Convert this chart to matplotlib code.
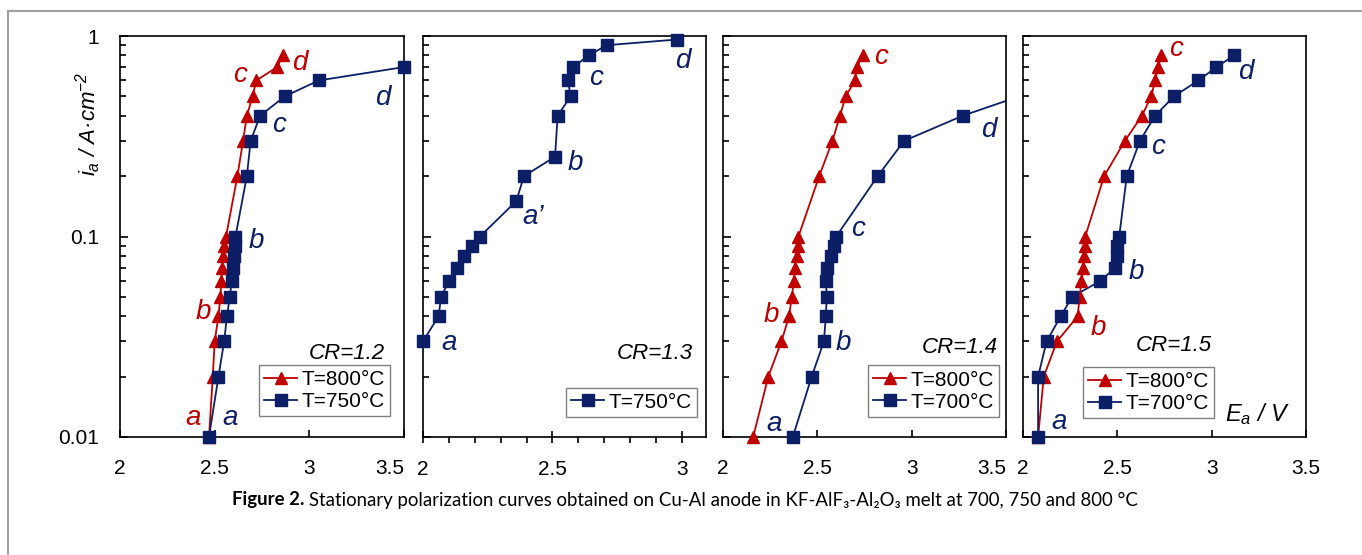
import numpy as np
import matplotlib.pyplot as plt
from matplotlib.lines import Line2D
from matplotlib.ticker import LogLocator, FixedLocator, FuncFormatter, NullFormatter

plt.rcParams['font.family'] = ['Liberation Sans', 'DejaVu Sans']
plt.rcParams['mathtext.fontset'] = 'custom'
plt.rcParams['mathtext.it'] = 'Liberation Sans:italic'
plt.rcParams['mathtext.rm'] = 'Liberation Sans:italic'

RED = '#c00000'
BLUE = '#0c1f66'

# anodic current density, A/cm2
i_17 = [0.01, 0.02, 0.03, 0.04, 0.05, 0.06, 0.07, 0.08, 0.09, 0.1,
        0.2, 0.3, 0.4, 0.5, 0.6, 0.7, 0.8]

# CR = 1.2
E_12_800 = [2.47, 2.49, 2.50, 2.52, 2.53, 2.535, 2.54, 2.545, 2.55, 2.56,
            2.62, 2.65, 2.67, 2.70, 2.72, 2.83, 2.86]
i_12_750 = [0.01, 0.02, 0.03, 0.04, 0.05, 0.06, 0.07, 0.08, 0.09, 0.1,
            0.2, 0.3, 0.4, 0.5, 0.6, 0.7]
E_12_750 = [2.47, 2.52, 2.55, 2.565, 2.58, 2.59, 2.595, 2.60, 2.61, 2.61,
            2.67, 2.69, 2.74, 2.87, 3.05, 3.5]

# CR = 1.3
i_13_750 = [0.03, 0.04, 0.05, 0.06, 0.07, 0.08, 0.09, 0.1, 0.15, 0.2,
            0.25, 0.4, 0.5, 0.6, 0.7, 0.8, 0.9, 0.96]
E_13_750 = [2.00, 2.06, 2.07, 2.10, 2.13, 2.16, 2.19, 2.22, 2.36, 2.39,
            2.51, 2.52, 2.57, 2.56, 2.58, 2.64, 2.71, 2.98]

# CR = 1.4
E_14_800 = [2.16, 2.24, 2.31, 2.35, 2.365, 2.375, 2.38, 2.39, 2.40, 2.40,
            2.51, 2.58, 2.62, 2.65, 2.70, 2.71, 2.74]
i_14_700 = [0.01, 0.02, 0.03, 0.04, 0.05, 0.06, 0.07, 0.08, 0.09, 0.1,
            0.2, 0.3, 0.4, 0.5]
E_14_700 = [2.37, 2.47, 2.535, 2.545, 2.55, 2.545, 2.55, 2.57, 2.59, 2.60,
            2.82, 2.96, 3.27, 3.57]

# CR = 1.5
E_15_800 = [2.08, 2.11, 2.18, 2.29, 2.30, 2.31, 2.32, 2.325, 2.33, 2.33,
            2.43, 2.54, 2.63, 2.68, 2.70, 2.716, 2.734]
E_15_700 = [2.08, 2.08, 2.125, 2.20, 2.26, 2.41, 2.49, 2.50, 2.50, 2.51,
            2.55, 2.62, 2.70, 2.80, 2.93, 3.025, 3.12]

W, H = 1362, 555
fig = plt.figure(figsize=(W / 100, H / 100), dpi=100)
fig.patch.set_facecolor('white')


def add_panel(x0, x1, y0=36, y1=437):
    return fig.add_axes([x0 / W, 1 - y1 / H, (x1 - x0) / W, (y1 - y0) / H])


axes = [add_panel(120, 404), add_panel(423, 706),
        add_panel(723, 1006), add_panel(1023, 1306)]
xlims = [(2, 3.5), (2, 3.093), (2, 3.5), (2, 3.5)]

for k, ax in enumerate(axes):
    ax.set_yscale('log')
    ax.set_ylim(0.01, 1)
    ax.set_xlim(*xlims[k])
    for sp in ax.spines.values():
        sp.set_linewidth(1.2)
    ax.yaxis.set_major_locator(FixedLocator([0.01, 0.1, 1]))
    ax.yaxis.set_minor_locator(LogLocator(base=10, subs=range(2, 10)))
    ax.yaxis.set_minor_formatter(NullFormatter())
    ax.yaxis.set_major_formatter(FuncFormatter(lambda v, p: '%g' % v))
    ax.tick_params(axis='y', which='major', direction='in', length=6, width=1.2,
                   labelsize=15, pad=15, left=True, right=False, labelleft=(k == 0))
    ax.tick_params(axis='y', which='minor', direction='in', length=4.5, width=1.2,
                   left=True, right=False)
    ax.xaxis.set_major_formatter(FuncFormatter(lambda v, p: '%g' % v))
    if k == 1:
        ax.set_xticks([2, 2.5, 3])
        ax.set_xticks(np.arange(2.1, 3.05, 0.1), minor=True)
        ax.tick_params(axis='x', which='major', direction='inout', length=9, width=1.2,
                       labelsize=15, pad=12)
        ax.tick_params(axis='x', which='minor', direction='out', length=4.5, width=1.2)
    else:
        ax.set_xticks([2, 2.5, 3, 3.5])
        ax.xaxis.set_minor_locator(FixedLocator([]))
        ax.tick_params(axis='x', which='major', direction='in', length=5, width=1.2,
                       labelsize=15, pad=16)
    ax.tick_params(axis='x', top=False)

# the 3.5 label is tucked against the right spine where the next panel follows
for ax in (axes[0], axes[2]):
    ax.get_xticklabels()[-1].set_horizontalalignment('right')


def series(ax, E, i, color, marker, label):
    E = np.asarray(E)
    i = np.asarray(i)
    ax.plot(E, i, color=color, linewidth=1.3, zorder=2)
    inside = E <= ax.get_xlim()[1]
    ax.plot(E[inside], i[inside], linestyle='none', marker=marker, color=color,
            markersize=9, clip_on=False, zorder=3)
    return Line2D([], [], color=color, marker=marker, linewidth=1.3,
                  markersize=9, label=label)


def legend(ax, handles, fx, fy):
    leg = ax.legend(handles=handles, loc='lower right', bbox_to_anchor=(fx, fy),
                    borderaxespad=0, fancybox=False, edgecolor='#808080',
                    framealpha=1, fontsize=15, handlelength=1.6, handletextpad=0.2,
                    borderpad=0.25, labelspacing=0.15)
    leg.get_frame().set_linewidth(1.0)


def tags(ax, items):
    for s, E, i, c in items:
        ax.text(E, i, s, color=c, fontsize=20, style='italic',
                ha='center', va='center')


def cr(ax, s, fx, fy):
    ax.text(fx, fy, s, transform=ax.transAxes, fontsize=16, style='italic',
            ha='right', va='center')


# CR = 1.2
ax = axes[0]
h1 = series(ax, E_12_800, i_17, RED, '^', 'T=800°C')
h2 = series(ax, E_12_750, i_12_750, BLUE, 's', 'T=750°C')
legend(ax, [h1, h2], 0.951, 0.052)
cr(ax, 'CR=1.2', 0.933, 0.209)
tags(ax, [('a', 2.384, 0.0124, RED), ('a', 2.58, 0.0124, BLUE),
          ('b', 2.44, 0.042, RED), ('b', 2.72, 0.095, BLUE),
          ('c', 2.635, 0.64, RED), ('d', 2.95, 0.73, RED),
          ('c', 2.84, 0.36, BLUE), ('d', 3.39, 0.49, BLUE)])

# CR = 1.3
ax = axes[1]
h2 = series(ax, E_13_750, i_13_750, BLUE, 's', 'T=750°C')
legend(ax, [h2], 0.968, 0.05)
cr(ax, 'CR=1.3', 0.954, 0.209)
tags(ax, [('a', 2.10, 0.0295, BLUE), ("a’", 2.425, 0.125, BLUE),
          ('b', 2.59, 0.232, BLUE), ('c', 2.668, 0.62, BLUE),
          ('d', 3.004, 0.75, BLUE)])

# CR = 1.4
ax = axes[2]
h1 = series(ax, E_14_800, i_17, RED, '^', 'T=800°C')
h2 = series(ax, E_14_700, i_14_700, BLUE, 's', 'T=700°C')
legend(ax, [h1, h2], 0.975, 0.05)
cr(ax, 'CR=1.4', 0.972, 0.224)
tags(ax, [('c', 2.84, 0.79, RED), ('d', 3.41, 0.34, BLUE),
          ('c', 2.717, 0.109, BLUE), ('b', 2.258, 0.0407, RED),
          ('b', 2.64, 0.0295, BLUE), ('a', 2.27, 0.0116, BLUE)])

# CR = 1.5
ax = axes[3]
h1 = series(ax, E_15_800, i_17, RED, '^', 'T=800°C')
h2 = series(ax, E_15_700, i_17, BLUE, 's', 'T=700°C')
legend(ax, [h1, h2], 0.675, 0.047)
cr(ax, 'CR=1.5', 0.668, 0.229)
tags(ax, [('c', 2.81, 0.86, RED), ('d', 3.18, 0.66, BLUE),
          ('c', 2.714, 0.28, BLUE), ('b', 2.598, 0.0665, BLUE),
          ('b', 2.397, 0.035, RED), ('a', 2.19, 0.0119, BLUE)])
ax.text(0.827, 0.057, r'$E_a$ / V', transform=ax.transAxes, fontsize=17,
        style='italic', ha='center', va='center')

fig.text(88 / W, 1 - 124 / H, r'$i_a$ / A·cm$^{-2}$', rotation=90, fontsize=16,
         style='italic', ha='center', va='center')

# caption: bold lead-in followed by the regular text
cap_font = ['Lato', 'DejaVu Sans']
cap_y = 1 - 500 / H
lead = fig.text(232 / W, cap_y, 'Figure 2.', fontsize=13.4, fontweight='bold',
                family=cap_font, ha='left', va='center')
renderer = fig.canvas.get_renderer()
lead_end = lead.get_window_extent(renderer).x1
fig.text((lead_end + 5) / W, cap_y,
         'Stationary polarization curves obtained on Cu-Al anode in '
         'KF-AlF\u2083-Al\u2082O\u2083 melt at 700, 750 and 800 °C',
         fontsize=13.4, family=cap_font, ha='left', va='center')

# frame lines around the figure block
fig.add_artist(Line2D([8 / W, 1], [1 - 11 / H, 1 - 11 / H], color='#a0a0a0',
                      linewidth=1.5, transform=fig.transFigure))
fig.add_artist(Line2D([8 / W, 8 / W], [1 - 11 / H, 0], color='#a0a0a0',
                      linewidth=1.5, transform=fig.transFigure))

fig.savefig('out.png', dpi=100)
